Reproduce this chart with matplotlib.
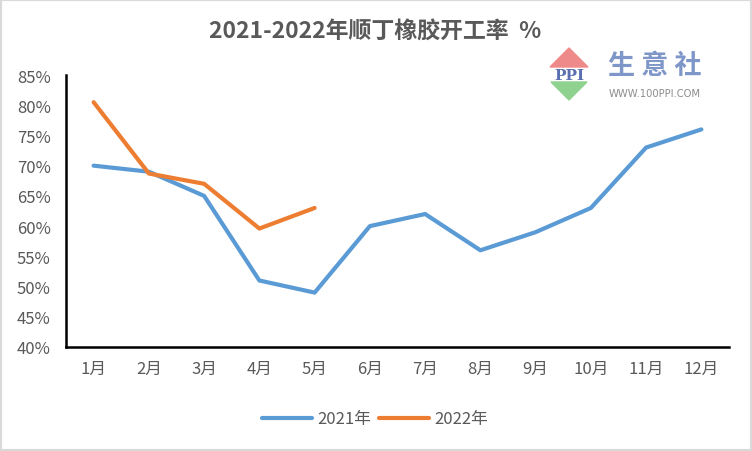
import matplotlib.pyplot as plt
import matplotlib.patches as mpatches
from matplotlib.ticker import PercentFormatter

plt.rcParams['font.family'] = ['Noto Sans CJK SC', 'DejaVu Sans']

months = ["1月", "2月", "3月", "4月", "5月", "6月", "7月", "8月", "9月", "10月", "11月", "12月"]
rate_2021 = [70, 69, 65, 51, 49, 60, 62, 56, 59, 63, 73, 76]
rate_2022 = [80.5, 68.7, 67, 59.6, 63]

fig = plt.figure(figsize=(7.52, 4.52), dpi=100)
ax = fig.add_axes([66 / 752, 104 / 452, 663 / 752, 272 / 452])

x = list(range(len(months)))
ax.plot(x, rate_2021, color="#5b9bd5", lw=3, label="2021年", solid_capstyle="round")
ax.plot(x[:len(rate_2022)], rate_2022, color="#ed7d31", lw=3, label="2022年",
        solid_capstyle="round")

ax.set_xlim(-0.5, len(months) - 0.5)
ax.set_ylim(40, 85)
ax.set_yticks(range(40, 86, 5))
ax.yaxis.set_major_formatter(PercentFormatter(decimals=0))
ax.set_xticks(x)
ax.set_xticklabels(months)
ax.tick_params(axis="both", length=0, labelsize=12, colors="#595959")
ax.tick_params(axis="x", pad=9)
ax.tick_params(axis="y", pad=11)
for s in ["top", "right"]:
    ax.spines[s].set_visible(False)
for s in ["left", "bottom"]:
    ax.spines[s].set_color("black")
    ax.spines[s].set_linewidth(1.8)

fig.text(375 / 752, 1 - 32 / 452, "2021-2022年顺丁橡胶开工率  %", ha="center", va="center",
         fontsize=16.5, fontweight="bold", color="#595959")

fig.legend(loc="center", bbox_to_anchor=(375 / 752, 1 - 420 / 452), ncol=2, frameon=False,
           fontsize=12, labelcolor="#595959", handlelength=3.0, handletextpad=0.3,
           columnspacing=0.5)

# logo
W, H = 752, 452
def fx(px):
    return px / W
def fy(py):
    return 1 - py / H

fig.patches.append(mpatches.Polygon([(fx(550), fy(68)), (fx(588), fy(68)), (fx(569), fy(49))],
                                    closed=True, transform=fig.transFigure, color="#ef8a8a"))
fig.patches.append(mpatches.Polygon([(fx(551), fy(83)), (fx(587), fy(83)), (fx(569), fy(101))],
                                    closed=True, transform=fig.transFigure, color="#8fd18f"))
fig.text(fx(569), fy(75.5), "PPI", ha="center", va="center", fontsize=11,
         family="DejaVu Serif", fontweight="bold", color="#5a6fb0")
fig.text(fx(655), fy(66), "生 意 社", ha="center", va="center", fontsize=19.5,
         fontweight="bold", color="#7f96c8")
fig.text(fx(655), fy(94), "WWW.100PPI.COM", ha="center", va="center", fontsize=7.2,
         color="#8c8c8c", family="DejaVu Sans")

fig.patches.append(mpatches.Rectangle((0, 0), 1, 1, transform=fig.transFigure, fill=False,
                                      edgecolor="#d9d9d9", lw=3))

fig.savefig("out.png", dpi=100)
